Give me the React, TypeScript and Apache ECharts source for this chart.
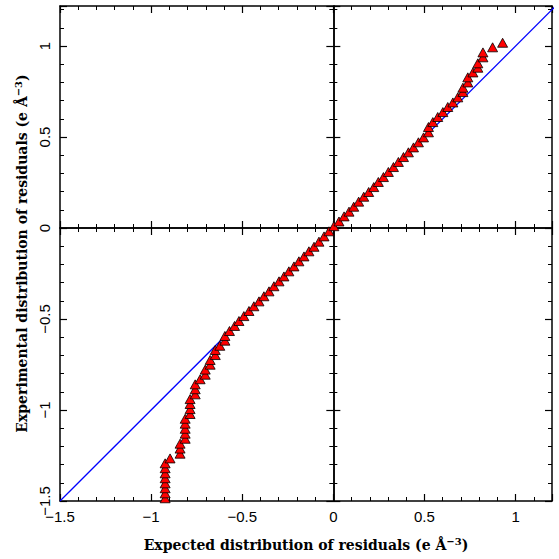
import React, { useEffect, useRef } from "react";
import * as echarts from "echarts";

const expectedX = [
  -0.923, -0.923, -0.923, -0.923, -0.923, -0.923, -0.923, -0.923,
  -0.896,
  -0.841, -0.841, -0.841,
  -0.813, -0.813, -0.813, -0.813, -0.813,
  -0.786, -0.786, -0.786, -0.786,
  -0.758, -0.758, -0.758,
  -0.731,
  -0.703, -0.703,
  -0.676, -0.676,
  -0.648, -0.648,
  -0.623,
  -0.595, -0.595,
  -0.570, -0.542, -0.518, -0.491, -0.463, -0.436, -0.408, -0.381, -0.353,
  -0.326, -0.298, -0.271, -0.244, -0.216, -0.189, -0.161, -0.134, -0.106,
  -0.079, -0.051, -0.024, 0.003, 0.031, 0.059, 0.086, 0.112, 0.139, 0.167,
  0.194, 0.222, 0.247, 0.275, 0.302, 0.330, 0.357, 0.385, 0.412, 0.440,
  0.467, 0.495, 0.522, 0.522, 0.546, 0.573, 0.601, 0.628, 0.656, 0.683,
  0.711, 0.711, 0.738, 0.738, 0.766, 0.793, 0.793, 0.821, 0.821, 0.874, 0.929,
];

const experimentalY = [
  -1.485, -1.458, -1.430, -1.403, -1.375, -1.348, -1.320, -1.293,
  -1.266,
  -1.240, -1.212, -1.185,
  -1.158, -1.130, -1.103, -1.075, -1.048,
  -1.022, -0.995, -0.967, -0.940,
  -0.914, -0.886, -0.859,
  -0.831,
  -0.806, -0.778,
  -0.751, -0.725,
  -0.698, -0.670,
  -0.647,
  -0.619, -0.593,
  -0.566, -0.538, -0.511, -0.484, -0.456, -0.430, -0.403, -0.375, -0.348,
  -0.320, -0.293, -0.266, -0.238, -0.211, -0.183, -0.156, -0.128, -0.103,
  -0.075, -0.046, -0.018, 0.010, 0.036, 0.064, 0.090, 0.117, 0.145, 0.172,
  0.198, 0.225, 0.253, 0.280, 0.308, 0.335, 0.363, 0.390, 0.416, 0.443,
  0.471, 0.498, 0.526, 0.555, 0.582, 0.610, 0.637, 0.665, 0.690, 0.718,
  0.747, 0.771, 0.800, 0.828, 0.855, 0.881, 0.905, 0.938, 0.965, 0.993, 1.018,
];

const referenceLine = [
  [-1.5, -1.5],
  [1.22, 1.22],
];

const axisMin = -1.5;
const xAxisMax = 1.2;
const yAxisMax = 1.22;
const majorInterval = 0.5;

const xTitle = "Expected distribution of residuals (e Å{sup|−3})";
const yTitle = "Experimental distribution of residuals (e Å{sup|−3})";

export default function App() {
  const ref = useRef<HTMLDivElement>(null);

  useEffect(() => {
    if (!ref.current) return;
    const chart = echarts.init(ref.current, undefined, { renderer: "svg" });

    const lineStyle = { color: "#000", width: 1.5 };
    const nameStyle = {
      fontFamily: "DejaVu Serif",
      fontWeight: "bold" as const,
      fontSize: 14,
      color: "#000",
      rich: {
        sup: {
          fontFamily: "DejaVu Serif",
          fontWeight: "bold" as const,
          fontSize: 10,
          color: "#000",
          verticalAlign: "top" as const,
          padding: [0, 0, 8, 0],
        },
      },
    };
    const fmt = (v: number) => String(v).replace("-", "\u2212");

    const base = (max: number, extra: any) => ({
      type: "value",
      min: axisMin,
      max,
      interval: majorInterval,
      splitLine: { show: false },
      axisLine: { show: true, onZero: false, lineStyle },
      axisTick: { show: true, inside: true, length: 7, lineStyle: { color: "#000", width: 1.2 } },
      minorTick: { show: true, splitNumber: 5, length: 4, lineStyle: { color: "#000", width: 1 } },
      axisLabel: { show: false },
      nameMoveOverlap: false,
      ...extra,
    });

    const labelStyle = {
      show: true,
      fontFamily: "Liberation Sans",
      fontSize: 15,
      color: "#000",
      formatter: fmt,
      showMaxLabel: false,
      showMinLabel: true,
      margin: 8,
    };

    const zeroLine = { show: true, onZero: true, onZeroAxisIndex: 0, lineStyle };

    chart.setOption({
      animation: false,
      backgroundColor: "#fff",
      grid: {
        left: 60,
        top: 6,
        width: 492,
        height: 495,
        containLabel: false,
        outerBoundsMode: "none",
      },
      xAxis: [
        base(xAxisMax, {
          position: "bottom",
          axisLabel: labelStyle,
          name: xTitle,
          nameLocation: "middle",
          nameGap: 35,
          nameTextStyle: nameStyle,
        }),
        base(xAxisMax, { position: "top" }),
        base(xAxisMax, { position: "bottom", axisLine: zeroLine }),
        base(xAxisMax, { position: "top", axisLine: zeroLine }),
      ],
      yAxis: [
        base(yAxisMax, {
          position: "left",
          axisLabel: { ...labelStyle, rotate: 90 },
          name: yTitle,
          nameLocation: "middle",
          nameGap: 29,
          nameTextStyle: nameStyle,
        }),
        base(yAxisMax, { position: "right" }),
        base(yAxisMax, { position: "left", axisLine: zeroLine }),
        base(yAxisMax, { position: "right", axisLine: zeroLine }),
      ],
      series: [
        {
          type: "line",
          xAxisIndex: 0,
          yAxisIndex: 0,
          data: referenceLine,
          symbol: "none",
          lineStyle: { color: "#0000ff", width: 1.3 },
          silent: true,
          clip: true,
          z: 2,
        },
        {
          type: "scatter",
          xAxisIndex: 0,
          yAxisIndex: 0,
          data: expectedX.map((x, i) => [x, experimentalY[i]]),
          symbol: "triangle",
          symbolSize: [10, 9],
          itemStyle: { color: "#ff0000", borderColor: "#000", borderWidth: 0.8, opacity: 1 },
          z: 3,
        },
      ],
    });

    return () => chart.dispose();
  }, []);

  return <div ref={ref} style={{ width: 559, height: 559, position: "absolute", left: 0, top: 0 }} />;
}
